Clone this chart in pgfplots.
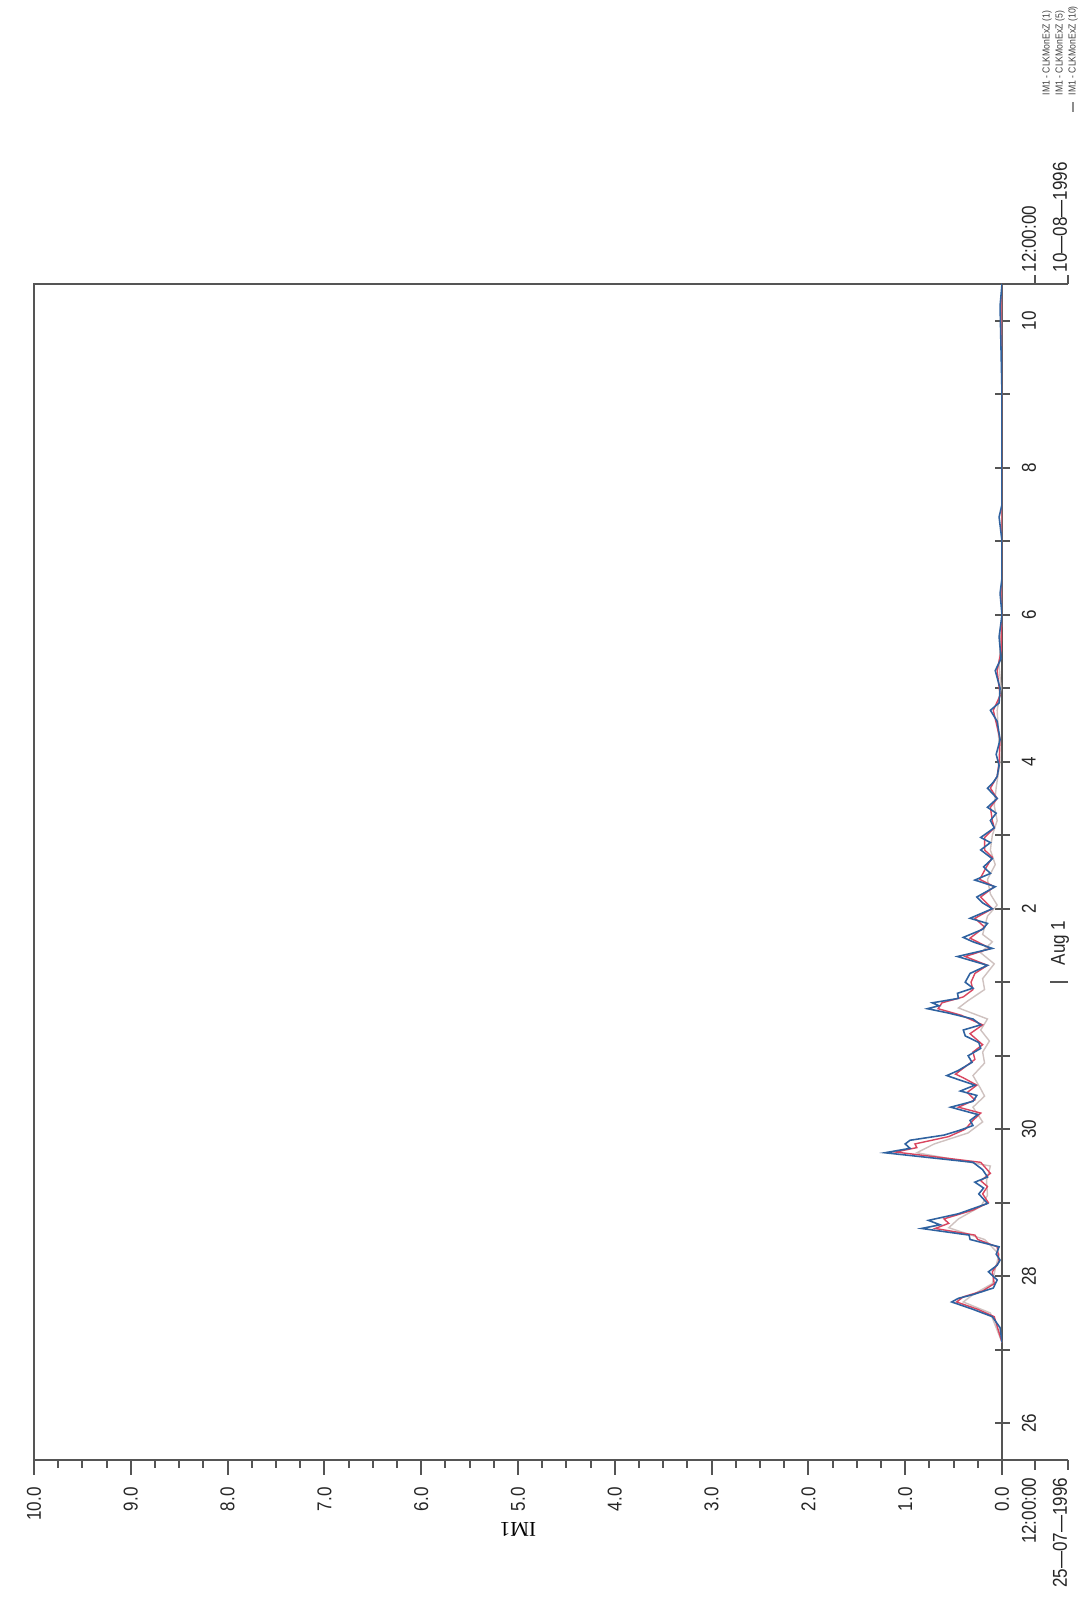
\documentclass[border=0pt]{standalone}
\usepackage{pgfplots}
\pgfplotsset{compat=1.18}
\usepackage{graphicx}
\usepackage{fontspec}
\setmainfont{Liberation Sans}
\newfontfamily\narrow[FakeStretch=0.85]{Liberation Sans}
\newfontfamily\serifm{Liberation Serif}
\newcommand{\ticfont}{\narrow\fontsize{5.7}{6.5}\selectfont}
\newcommand{\legfont}{\narrow\fontsize{2.9}{3.4}\selectfont}
\definecolor{sblue}{HTML}{2F62A0}
\definecolor{sred}{HTML}{D9465F}
\definecolor{spale}{HTML}{CFC2C0}
\definecolor{axgray}{HTML}{555555}

\pgfplotstableread{
d v
27.10 0.00
27.30 0.02
27.45 0.10
27.55 0.30
27.65 0.52
27.70 0.45
27.75 0.30
27.84 0.09
27.95 0.05
28.06 0.14
28.15 0.05
28.22 0.02
28.30 0.06
28.40 0.03
28.50 0.33
28.56 0.34
28.65 0.83
28.70 0.64
28.76 0.76
28.85 0.45
28.99 0.15
29.12 0.24
29.20 0.19
29.28 0.28
29.35 0.15
29.45 0.20
29.55 0.30
29.68 1.21
29.74 0.95
29.80 1.00
29.85 0.95
29.92 0.60
29.98 0.45
30.05 0.30
30.12 0.33
30.20 0.25
30.30 0.53
30.38 0.30
30.46 0.26
30.52 0.43
30.60 0.28
30.68 0.46
30.73 0.57
30.80 0.45
30.91 0.31
31.00 0.35
31.10 0.22
31.18 0.24
31.27 0.38
31.35 0.40
31.42 0.22
31.50 0.30
31.58 0.55
31.64 0.77
31.68 0.65
31.72 0.72
31.78 0.45
31.85 0.46
31.92 0.30
32.00 0.38
32.12 0.33
32.23 0.15
32.35 0.46
32.46 0.10
32.55 0.30
32.61 0.40
32.72 0.20
32.80 0.15
32.87 0.33
33.00 0.10
33.08 0.20
33.16 0.26
33.30 0.07
33.39 0.28
33.48 0.12
33.57 0.19
33.68 0.10
33.80 0.22
33.90 0.12
33.97 0.22
34.10 0.08
34.20 0.12
34.30 0.06
34.38 0.15
34.50 0.05
34.64 0.15
34.72 0.09
34.80 0.05
34.95 0.03
35.10 0.06
35.30 0.02
35.55 0.05
35.70 0.12
35.80 0.03
36.00 0.02
36.24 0.07
36.40 0.01
36.70 0.03
37.00 0.00
37.29 0.02
37.50 0.00
38.00 0.00
38.33 0.03
38.50 0.00
39.00 0.00
40.00 0.00
41.20 0.02
41.50 0.00
}\serone

\pgfplotstableread{
d v
27.10 0.00
27.45 0.08
27.55 0.25
27.65 0.47
27.72 0.40
27.80 0.20
27.90 0.08
28.06 0.10
28.20 0.03
28.40 0.05
28.50 0.25
28.56 0.28
28.65 0.69
28.72 0.55
28.78 0.60
28.90 0.30
29.00 0.14
29.12 0.20
29.22 0.15
29.30 0.22
29.40 0.12
29.55 0.22
29.69 1.10
29.75 0.88
29.80 0.90
29.90 0.55
30.00 0.38
30.12 0.30
30.22 0.22
30.30 0.45
30.40 0.28
30.50 0.36
30.60 0.26
30.70 0.40
30.75 0.48
30.85 0.38
30.95 0.28
31.05 0.30
31.15 0.20
31.30 0.33
31.42 0.20
31.55 0.42
31.64 0.66
31.72 0.62
31.80 0.40
31.90 0.30
32.00 0.32
32.12 0.28
32.23 0.15
32.35 0.38
32.46 0.12
32.60 0.33
32.75 0.18
32.87 0.28
33.00 0.10
33.16 0.22
33.30 0.08
33.40 0.23
33.57 0.16
33.70 0.10
33.80 0.18
33.97 0.18
34.10 0.08
34.20 0.10
34.38 0.12
34.50 0.05
34.64 0.12
34.80 0.05
35.00 0.03
35.30 0.02
35.70 0.09
35.90 0.02
36.24 0.05
36.50 0.01
37.00 0.00
38.00 0.00
41.50 0.00
}\serfive

\pgfplotstableread{
d v
27.10 0.00
27.50 0.12
27.65 0.40
27.75 0.30
27.90 0.10
28.10 0.07
28.30 0.03
28.50 0.18
28.66 0.55
28.78 0.45
28.95 0.22
29.10 0.15
29.30 0.16
29.50 0.12
29.68 0.88
29.80 0.70
29.95 0.35
30.10 0.20
30.30 0.30
30.45 0.18
30.55 0.22
30.73 0.30
30.90 0.18
31.05 0.20
31.20 0.13
31.35 0.22
31.50 0.15
31.65 0.45
31.75 0.35
31.90 0.18
32.05 0.20
32.25 0.08
32.40 0.22
32.55 0.10
32.65 0.20
32.90 0.15
33.05 0.05
33.20 0.12
33.40 0.15
33.60 0.07
33.80 0.12
34.00 0.10
34.20 0.05
34.40 0.08
34.65 0.06
35.00 0.02
35.70 0.05
36.00 0.01
36.30 0.03
37.00 0.00
41.50 0.00
}\serten

\begin{document}
\rotatebox{90}{%
\begin{tikzpicture}
\path[use as bounding box] (0,0) rectangle (160.6mm,107.8mm);
\begin{axis}[
  at={(14.6mm,7.6mm)}, anchor=south west,
  width=117.6mm, height=96.8mm, scale only axis,
  xmin=25.5, xmax=41.5, ymin=0, ymax=10,
  xtick={26,...,41},
  xticklabels={26,,28,,30,,,2,,4,,6,,8,,10},
  ytick={0,...,10},
  minor y tick num=3,
  xtick align=center, ytick align=outside,
  xtick pos=bottom, ytick pos=left,
  major tick length=1.5mm, minor tick length=0.8mm,
  axis line style={line width=0.55pt, axgray},
  every tick/.style={line width=0.55pt, axgray},
  minor tick style={line width=0.55pt, axgray},
  /pgf/number format/assume math mode=true,
  every tick label/.append style={font=\ticfont, text=black!85},
  yticklabel style={/pgf/number format/.cd, fixed, fixed zerofill, precision=1},
  ylabel={\serifm\fontsize{6}{7}\selectfont IM1},
  every axis y label/.style={at={(axis description cs:-0.0527,0.5)}, rotate=90, anchor=south, inner sep=0pt},
  clip=true,
]
\addplot[spale, line width=0.4pt] table[x=d,y=v] {\serten};
\addplot[sred, line width=0.4pt] table[x=d,y=v] {\serfive};
\addplot[sblue, line width=0.45pt] table[x=d,y=v] {\serone};
\end{axis}
% left date bracket
\draw[axgray, line width=0.55pt] (14.6mm,7.6mm) -- (14.6mm,1.0mm);
\draw[axgray, line width=0.55pt] (14.6mm,4.3mm) -- (13.6mm,4.3mm);
\draw[axgray, line width=0.55pt] (14.6mm,1.0mm) -- (13.6mm,1.0mm);
\node[anchor=east, inner sep=0pt, font=\ticfont, text=black!85] at (12.9mm,4.9mm) {12:00:00};
\node[anchor=east, inner sep=0pt, font=\ticfont, text=black!85] at (12.9mm,1.8mm) {25\textemdash 07\textemdash 1996};
% right date bracket
\draw[axgray, line width=0.55pt] (132.2mm,7.6mm) -- (132.2mm,1.0mm);
\draw[axgray, line width=0.55pt] (132.2mm,4.3mm) -- (133.1mm,4.3mm);
\draw[axgray, line width=0.55pt] (132.2mm,1.0mm) -- (133.1mm,1.0mm);
\node[anchor=west, inner sep=0pt, font=\ticfont, text=black!85] at (133.3mm,4.9mm) {12:00:00};
\node[anchor=west, inner sep=0pt, font=\ticfont, text=black!85] at (133.3mm,1.8mm) {10\textemdash 08\textemdash 1996};
% Aug 1 marker
\draw[axgray, line width=0.55pt] (62.4mm,1.0mm) -- (62.4mm,2.8mm);
\node[anchor=west, inner sep=0pt, font=\ticfont, text=black!85] at (64.0mm,1.8mm) {Aug 1};
% legend
\node[anchor=west, inner sep=0pt, font=\legfont, text=black!75] at (151.0mm,3.1mm) {IM1 - CLKMonExZ (1)};
\node[anchor=west, inner sep=0pt, font=\legfont, text=black!75] at (151.0mm,1.8mm) {IM1 - CLKMonExZ (5)};
\node[anchor=west, inner sep=0pt, font=\legfont, text=black!75] at (151.0mm,0.5mm) {IM1 - CLKMonExZ (10)};
\draw[black!45, line width=0.4pt] (149.4mm,0.5mm) -- (150.4mm,0.5mm);
\end{tikzpicture}}
\end{document}
